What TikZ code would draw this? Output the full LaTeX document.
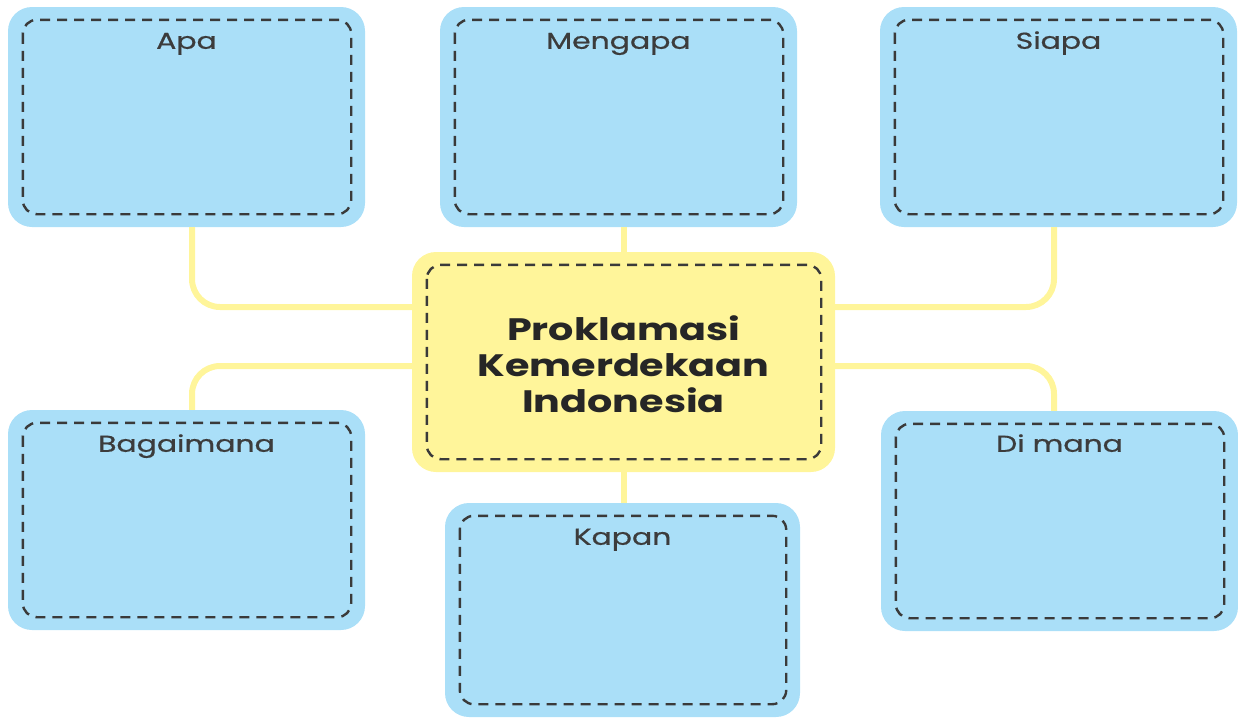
\documentclass[tikz,border=0pt]{standalone}
\usepackage{fontspec}
\setmainfont{Poppins}
\newfontfamily\lblfont[FakeBold=0.6]{Poppins}
\usetikzlibrary{calc}
\definecolor{boxblue}{HTML}{AADFF8}
\definecolor{boxyellow}{HTML}{FFF59A}
\definecolor{connyellow}{HTML}{FFF59A}
\definecolor{dashgray}{HTML}{3A3A3A}
\definecolor{txt}{HTML}{262626}
\newcommand{\widetext}[1]{\scalebox{1.3}[1]{#1}}
\tikzset{
  bluebox/.style={fill=boxblue, draw=none, rounded corners=24pt, minimum width=357pt, minimum height=220pt, inner sep=0pt},
  centerbox/.style={fill=boxyellow, draw=none, rounded corners=24pt, minimum width=423pt, minimum height=220pt, inner sep=0pt},
  dashline/.style={draw=dashgray, line width=2.4pt, dash pattern=on 10pt off 7pt, rounded corners=14pt},
  conn/.style={draw=connyellow, line width=6pt, rounded corners=28pt},
  lbl/.style={text=txt!90!white, anchor=base, inner sep=0pt, font=\lblfont\fontsize{23pt}{27pt}\selectfont},
  title/.style={text=txt, inner sep=0pt, font=\fontsize{31pt}{36pt}\selectfont\bfseries}
}
\newcommand{\innerdash}[1]{\draw[dashline] ([shift={(15pt,-13pt)}]#1.north west) rectangle ([shift={(-14pt,13pt)}]#1.south east);}
\begin{document}
\begin{tikzpicture}[x=1pt,y=-1pt]
\useasboundingbox (0,0) rectangle (1238,720);
% boxes
\node[bluebox] (apa) at (186.5,117) {};
\node[bluebox] (mengapa) at (618.5,117) {};
\node[bluebox] (siapa) at (1058.5,117) {};
\node[bluebox] (bagaimana) at (186.5,520) {};
\node[bluebox] (dimana) at (1059.5,521) {};
\node[bluebox, minimum width=355pt, minimum height=214pt] (kapan) at (622.5,610) {};
\node[centerbox] (center) at (623.5,362) {};
% connectors
\draw[conn] ([xshift=5.5pt]apa.south) |- ([yshift=55pt]center.west);
\draw[conn] ([yshift=-4pt]center.west) -| ([xshift=5.5pt]bagaimana.north);
\draw[conn] ([xshift=-4.5pt]siapa.south) |- ([yshift=55pt]center.east);
\draw[conn] ([yshift=-4pt]center.east) -| ([xshift=-5.5pt]dimana.north);
\draw[conn] (center.north) -- (center.north |- mengapa.south);
\draw[conn] (center.south) -- (center.south |- kapan.north);
% dashed insets
\innerdash{apa}
\innerdash{mengapa}
\innerdash{siapa}
\innerdash{bagaimana}
\innerdash{dimana}
\innerdash{kapan}
\innerdash{center}
% labels
\node[lbl] (tapa) at ([yshift=-42pt]apa.north) {\widetext{Apa}};
\node[lbl] (tmengapa) at ([yshift=-42pt]mengapa.north) {\widetext{Mengapa}};
\node[lbl] (tsiapa) at ([yshift=-42pt]siapa.north) {\widetext{Siapa}};
\node[lbl] (tbagaimana) at ([yshift=-42pt]bagaimana.north) {\widetext{Bagaimana}};
\node[lbl] (tdimana) at ([yshift=-41pt]dimana.north) {\widetext{Di mana}};
\node[lbl] (tkapan) at ([yshift=-42pt]kapan.north) {\widetext{Kapan}};
\node[title] (tcenter) at ([yshift=-7pt]center) {\scalebox{1.28}[1]{\begin{tabular}{@{}c@{}}Proklamasi\\Kemerdekaan\\Indonesia\end{tabular}}};
\end{tikzpicture}
\end{document}
